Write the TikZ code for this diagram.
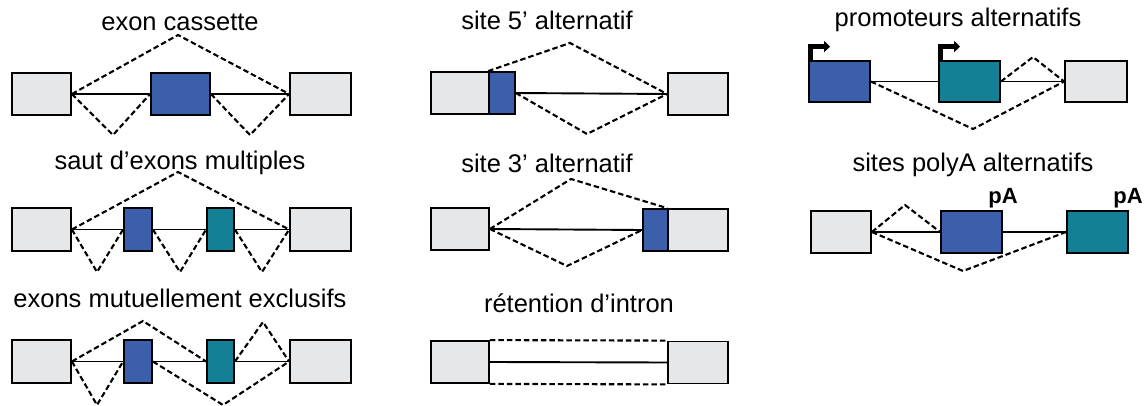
\documentclass[tikz,border=0pt]{standalone}
\usepackage{fontspec}
\setmainfont{Liberation Sans}
\usetikzlibrary{arrows.meta}
\definecolor{exgrey}{RGB}{230,231,232}
\definecolor{exblue}{RGB}{60,95,172}
\definecolor{exteal}{RGB}{20,128,150}
\tikzset{
  exon/.style={draw, line width=1.8pt, inner sep=0pt, minimum height=42pt},
  wide/.style={exon, minimum width=59pt},
  narrow/.style={exon, minimum width=27pt},
  splice/.style={line width=2.1pt, dash pattern=on 5.5pt off 3pt},
  intron/.style={line width=1.9pt},
  title/.style={font=\fontsize{25.5}{30}\selectfont},
  polya/.style={font=\fontsize{22}{25}\selectfont\bfseries, inner sep=0pt},
  promoter/.style={line width=5pt, -{Triangle[length=6pt, width=11pt]}}
}
\begin{document}
\begin{tikzpicture}[x=1pt, y=-1pt]
  \useasboundingbox (0,0) rectangle (1145,406);

  % exon cassette
  \node[title] (t1) at (180,22) {exon cassette};
  \node[wide, fill=exgrey] (a1) at (41.5,94) {};
  \node[wide, fill=exblue] (a2) at (180.5,94) {};
  \node[wide, fill=exgrey, minimum width=61pt] (a3) at (320.5,94) {};
  \coordinate (a4) at (178,35);
  \coordinate (a5) at (113,135);
  \coordinate (a6) at (250,135);
  \draw[intron] (a1.east) -- (a2.west) (a2.east) -- (a3.west);
  \draw[splice] (a1.east) -- (a4) -- (a3.west);
  \draw[splice] (a1.east) -- (a5) -- (a2.west);
  \draw[splice] (a2.east) -- (a6) -- (a3.west);

  % saut d'exons multiples
  \node[title] (t2) at (180,163) {saut d’exons multiples};
  \node[wide, fill=exgrey, minimum height=43pt] (b1) at (41.5,229.5) {};
  \node[narrow, fill=exblue, minimum height=43pt, minimum width=28pt] (b2) at (138,229.5) {};
  \node[narrow, fill=exteal, minimum height=43pt] (b3) at (220.5,229.5) {};
  \node[wide, fill=exgrey, minimum width=61pt, minimum height=43pt] (b4) at (320.5,229.5) {};
  \coordinate (b5) at (178,172);
  \coordinate (b6) at (97,272);
  \coordinate (b7) at (180,272);
  \coordinate (b8) at (262,272);
  \draw[intron] (b1.east) -- (b2.west) (b2.east) -- (b3.west) (b3.east) -- (b4.west);
  \draw[splice] (b1.east) -- (b5) -- (b4.west);
  \draw[splice] (b1.east) -- (b6) -- (b2.west);
  \draw[splice] (b2.east) -- (b7) -- (b3.west);
  \draw[splice] (b3.east) -- (b8) -- (b4.west);

  % exons mutuellement exclusifs
  \node[title] (t3) at (180,298) {exons mutuellement exclusifs};
  \node[wide, fill=exgrey, minimum height=43pt] (c1) at (41.5,361.5) {};
  \node[narrow, fill=exblue, minimum height=43pt, minimum width=28pt] (c2) at (138,361.5) {};
  \node[narrow, fill=exteal, minimum height=43pt] (c3) at (220.5,361.5) {};
  \node[wide, fill=exgrey, minimum width=61pt, minimum height=43pt] (c4) at (320.5,361.5) {};
  \coordinate (c5) at (143,321);
  \coordinate (c6) at (263,322);
  \coordinate (c7) at (97,405);
  \coordinate (c8) at (223,405);
  \draw[intron] (c1.east) -- (c2.west) (c2.east) -- (c3.west) (c3.east) -- (c4.west);
  \draw[splice] (c1.east) -- (c5) -- (c3.west);
  \draw[splice] (c3.east) -- (c6) -- (c4.west);
  \draw[splice] (c1.east) -- (c7) -- (c2.west);
  \draw[splice] (c2.east) -- (c8) -- (c4.west);

  % site 5' alternatif
  \node[title] (t4) at (547,20) {site 5’ alternatif};
  \node[wide, fill=exgrey, minimum width=58pt] (d1) at (460,93) {};
  \node[narrow, fill=exblue, minimum width=26pt] (d2) at (502,93) {};
  \node[wide, fill=exgrey, minimum width=60pt] (d3) at (698,94) {};
  \coordinate (d4) at (570,43);
  \coordinate (d5) at (587,134);
  \draw[intron] (d2.east) -- (d3.west);
  \draw[splice] (d2.north west) -- (d4) -- (d3.west);
  \draw[splice] (d2.east) -- (d5) -- (d3.west);

  % site 3' alternatif
  \node[title] (t5) at (547,163) {site 3’ alternatif};
  \node[wide, fill=exgrey, minimum width=58pt] (e1) at (460,229) {};
  \node[narrow, fill=exblue, minimum width=25pt] (e2) at (655.5,230) {};
  \node[wide, fill=exgrey, minimum width=60pt] (e3) at (698,230) {};
  \coordinate (e4) at (571,179);
  \coordinate (e5) at (567,266);
  \draw[intron] (e1.east) -- (e2.west);
  \draw[splice] (e1.east) -- (e4) -- (e3.north west);
  \draw[splice] (e1.east) -- (e5) -- (e2.west);

  % retention d'intron
  \node[title] (t6) at (579,303) {rétention d’intron};
  \node[wide, fill=exgrey, minimum width=58pt] (f1) at (460,362) {};
  \node[wide, fill=exgrey, minimum width=60pt] (f2) at (698,362.5) {};
  \draw[intron] (f1.east) -- (f2.west);
  \draw[splice] (f1.north east) -- (f2.north west);
  \draw[splice] (f1.south east) -- (f2.south west);

  % promoteurs alternatifs
  \node[title] (t7) at (958,20) {promoteurs alternatifs};
  \node[wide, fill=exblue, minimum width=61pt, minimum height=41pt] (g1) at (839.5,81.5) {};
  \node[wide, fill=exteal, minimum width=61pt, minimum height=41pt] (g2) at (969.5,81.5) {};
  \node[wide, fill=exgrey, minimum width=62pt, minimum height=41pt] (g3) at (1096,81.5) {};
  \coordinate (g4) at (973,129);
  \coordinate (g5) at (1033,57);
  \draw[intron] (g1.east) -- (g2.west) (g2.east) -- (g3.west);
  \draw[splice] (g1.east) -- (g4) -- (g3.west);
  \draw[splice] (g2.east) -- (g5) -- (g3.west);
  \draw[promoter] ([xshift=2pt]g1.north west) -- ++(0,-13.5) -- ++(20,0);
  \draw[promoter] ([xshift=2pt]g2.north west) -- ++(0,-13.5) -- ++(20,0);

  % sites polyA alternatifs
  \node[title] (t8) at (973,165) {sites polyA alternatifs};
  \node[wide, fill=exgrey, minimum width=60pt] (h1) at (841,232) {};
  \node[wide, fill=exblue, minimum width=61pt] (h2) at (971.5,232) {};
  \node[wide, fill=exteal, minimum width=61pt] (h3) at (1097.5,232) {};
  \node[polya, anchor=base] (h4) at (1003,204) {pA};
  \node[polya, anchor=base] (h5) at (1128,204) {pA};
  \coordinate (h6) at (905,205);
  \coordinate (h7) at (963,271);
  \draw[intron] (h1.east) -- (h2.west) (h2.east) -- (h3.west);
  \draw[splice] (h1.east) -- (h6) -- (h2.west);
  \draw[splice] (h1.east) -- (h7) -- (h3.west);
\end{tikzpicture}
\end{document}
